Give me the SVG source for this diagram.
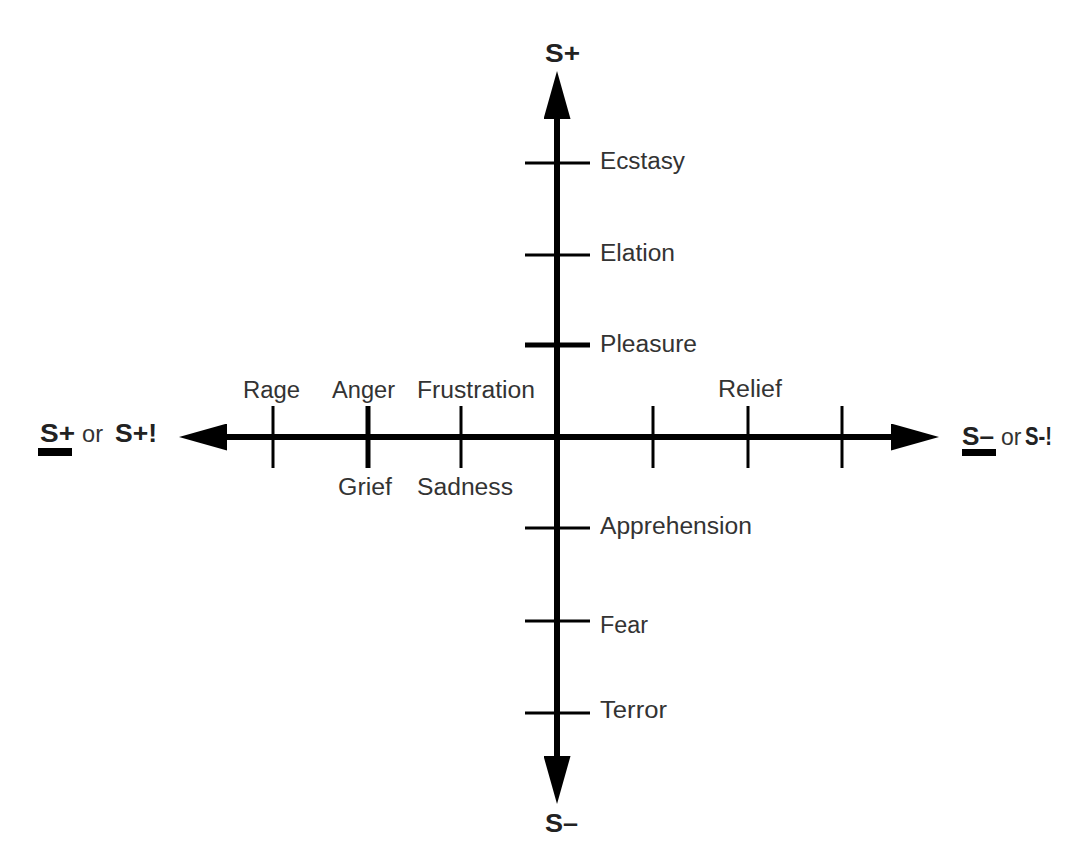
<svg xmlns="http://www.w3.org/2000/svg" width="1072" height="851" viewBox="0 0 1072 851">
<style>
.lbl{font-family:"Liberation Sans",Arial,sans-serif;font-size:23px;fill:#333;}
.end{font-family:"Liberation Sans",Arial,sans-serif;font-weight:bold;font-size:25px;fill:#222;}
.endr{font-family:"Liberation Sans",Arial,sans-serif;font-size:23px;fill:#333;}
.axis{stroke:#000;stroke-width:6;fill:none;}
.tick{stroke:#000;stroke-width:3;}
.tickb{stroke:#000;stroke-width:5;}
</style>
<defs>
<marker id="ah" viewBox="0 0 48 27" markerWidth="48" markerHeight="27" refX="1" refY="13.5" orient="auto" markerUnits="userSpaceOnUse">
<path d="M0,0 L48,13.5 L0,27 z" fill="#000"/>
</marker>
</defs>
<rect width="1072" height="851" fill="#fff"/>
<g id="connectors">
<line class="axis" x1="557" y1="437" x2="557" y2="118" marker-end="url(#ah)"/>
<line class="axis" x1="557" y1="437" x2="557" y2="757" marker-end="url(#ah)"/>
<line class="axis" x1="557" y1="437" x2="226" y2="437" marker-end="url(#ah)"/>
<line class="axis" x1="557" y1="437" x2="892" y2="437" marker-end="url(#ah)"/>
</g>
<g id="ticks">
<line class="tick" x1="525" y1="163" x2="590" y2="163"/>
<line class="tick" x1="525" y1="255" x2="590" y2="255"/>
<line class="tickb" x1="525" y1="345" x2="590" y2="345"/>
<line class="tick" x1="525" y1="528" x2="590" y2="528"/>
<line class="tick" x1="525" y1="621" x2="590" y2="621"/>
<line class="tick" x1="525" y1="713" x2="590" y2="713"/>
<line class="tick" x1="273" y1="406" x2="273" y2="468"/>
<line class="tickb" x1="368" y1="406" x2="368" y2="468"/>
<line class="tick" x1="461" y1="406" x2="461" y2="468"/>
<line class="tick" x1="653" y1="406" x2="653" y2="468"/>
<line class="tick" x1="748" y1="406" x2="748" y2="468"/>
<line class="tick" x1="842" y1="406" x2="842" y2="468"/>
</g>
<g id="node-splus-top"><text class="end" x="545" y="62" textLength="35" lengthAdjust="spacingAndGlyphs">S+</text></g>
<g id="node-sminus-bottom"><text class="end" x="545" y="832" textLength="33" lengthAdjust="spacingAndGlyphs">S–</text></g>
<g id="node-left">
<text class="end" x="40" y="442" textLength="35" lengthAdjust="spacingAndGlyphs">S+</text>
<rect x="38" y="448" width="34" height="8" fill="#000"/>
<text class="endr" x="82" y="442" textLength="21" lengthAdjust="spacingAndGlyphs">or</text>
<text class="end" x="115" y="442" textLength="42" lengthAdjust="spacingAndGlyphs">S+!</text>
</g>
<g id="node-right">
<text class="end" x="962" y="445" font-size="23" textLength="32" lengthAdjust="spacingAndGlyphs">S–</text>
<rect x="962" y="449" width="34" height="7" fill="#000"/>
<text class="endr" x="1001" y="445" font-size="18">or</text>
<text class="end" x="1025" y="445" font-size="22" textLength="27" lengthAdjust="spacingAndGlyphs">S-!</text>
</g>
<g id="node-ecstasy"><text class="lbl" x="600" y="169" textLength="85" lengthAdjust="spacingAndGlyphs">Ecstasy</text></g>
<g id="node-elation"><text class="lbl" x="600" y="261" textLength="75" lengthAdjust="spacingAndGlyphs">Elation</text></g>
<g id="node-pleasure"><text class="lbl" x="600" y="352" textLength="97" lengthAdjust="spacingAndGlyphs">Pleasure</text></g>
<g id="node-apprehension"><text class="lbl" x="600" y="534" textLength="152" lengthAdjust="spacingAndGlyphs">Apprehension</text></g>
<g id="node-fear"><text class="lbl" x="600" y="633" textLength="48" lengthAdjust="spacingAndGlyphs">Fear</text></g>
<g id="node-terror"><text class="lbl" x="600" y="718" textLength="67" lengthAdjust="spacingAndGlyphs">Terror</text></g>
<g id="node-rage"><text class="lbl" x="243" y="398" textLength="57" lengthAdjust="spacingAndGlyphs">Rage</text></g>
<g id="node-anger"><text class="lbl" x="332" y="398" textLength="63" lengthAdjust="spacingAndGlyphs">Anger</text></g>
<g id="node-frustration"><text class="lbl" x="417" y="398" textLength="118" lengthAdjust="spacingAndGlyphs">Frustration</text></g>
<g id="node-relief"><text class="lbl" x="718" y="397" textLength="64" lengthAdjust="spacingAndGlyphs">Relief</text></g>
<g id="node-grief"><text class="lbl" x="338" y="495" textLength="54" lengthAdjust="spacingAndGlyphs">Grief</text></g>
<g id="node-sadness"><text class="lbl" x="417" y="495" textLength="96" lengthAdjust="spacingAndGlyphs">Sadness</text></g>
</svg>
